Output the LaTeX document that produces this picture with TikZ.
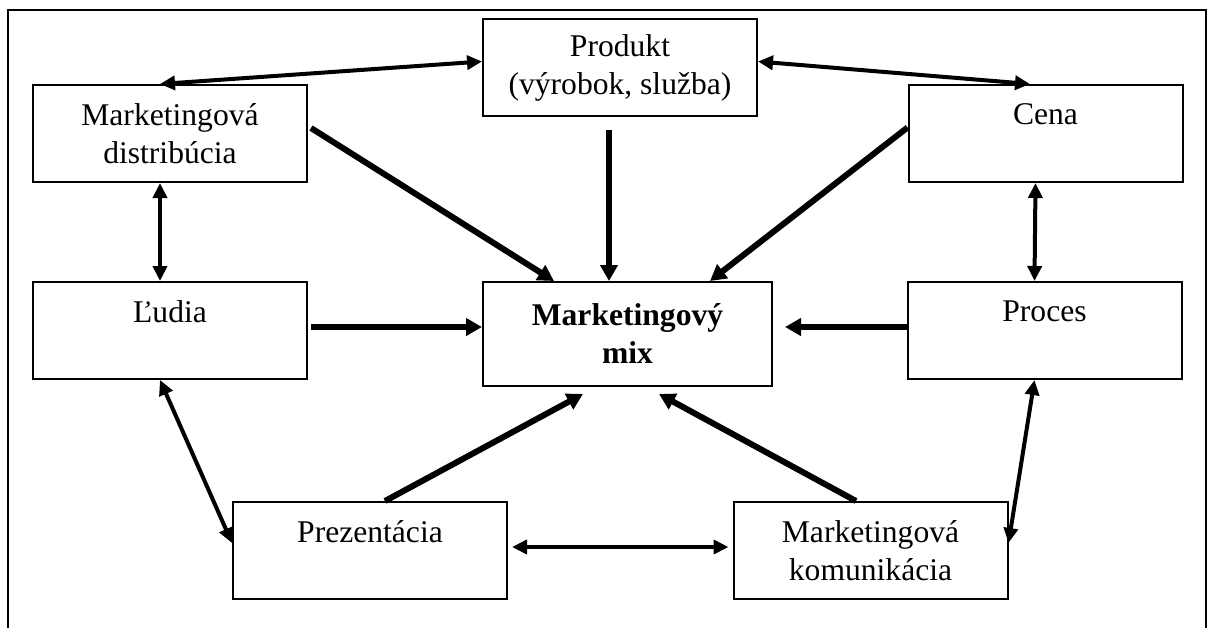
\documentclass[tikz,border=0pt]{standalone}
\usepackage{fontspec}
\setmainfont{Liberation Serif}
\usetikzlibrary{arrows.meta}

\begin{document}
\begin{tikzpicture}[x=0.5pt,y=-0.5pt,
  font=\fontsize{15.8}{19}\selectfont,
  box/.style={draw,line width=1pt,minimum width=137pt,minimum height=48.5pt,align=center,inner sep=0pt},
  oneline/.style={text depth=19pt},
  both/.style={line width=2pt,{Triangle[length=7.5pt,width=7pt]}-{Triangle[length=7.5pt,width=7pt]}},
  feed/.style={line width=3pt,-{Triangle[length=8pt,width=8.5pt]}}]
\useasboundingbox (0,0) rectangle (1209,628);
\draw[line width=1pt] (8,628) -- (8,10) -- (1206,10) -- (1206,628);

\node[box] (prod) at (620,67.5) {Produkt\\(výrobok, služba)};
\node[box] (distr) at (170,133.5) {Marketingová\\distribúcia};
\node[box,oneline] (cena) at (1045.5,133.5) {Cena};
\node[box,oneline] (ludia) at (170,330.5) {Ľudia};
\node[box,minimum width=144.5pt,minimum height=52pt,font=\fontsize{15.8}{19}\selectfont\bfseries] (mix) at (627.5,334) {Marketingový\\mix};
\node[box,oneline] (proces) at (1044.5,330.5) {Proces};
\node[box,oneline] (prez) at (370,550.5) {Prezentácia};
\node[box] (komun) at (870.5,550.5) {Marketingová\\komunikácia};

\draw[both] ([yshift=3pt]prod.west) -- ([xshift=-5pt]distr.north);
\draw[both] ([yshift=3pt]prod.east) -- ([xshift=-7.75pt]cena.north);
\draw[both] ([xshift=-5pt]distr.south) -- ([xshift=-5pt]ludia.north);
\draw[both] ([xshift=-5pt]cena.south) -- ([xshift=-5pt]proces.north);
\draw[both] ([xshift=-5pt]ludia.south) -- ([yshift=3.75pt]prez.west);
\draw[both] ([xshift=-5pt]proces.south) -- ([yshift=3.75pt]komun.east);
\draw[both] ([xshift=2pt,yshift=1.75pt]prez.east) -- ([xshift=-2pt,yshift=1.75pt]komun.west);

\draw[feed] ([xshift=1.5pt,yshift=2.75pt]distr.east) -- ([xshift=-36.75pt]mix.north);
\draw[feed] ([xshift=-5.5pt,yshift=-6.5pt]prod.south) -- ([xshift=-9.25pt]mix.north);
\draw[feed] ([yshift=3pt]cena.west) -- ([xshift=41.25pt]mix.north);
\draw[feed] ([xshift=1.5pt,yshift=1.75pt]ludia.east) -- ([yshift=3.5pt]mix.west);
\draw[feed] ([yshift=1.75pt]proces.west) -- ([xshift=6pt,yshift=3.5pt]mix.east);
\draw[feed] ([xshift=7.5pt]prez.north) -- ([xshift=-22.25pt,yshift=-3.5pt]mix.south);
\draw[feed] ([xshift=-7.25pt]komun.north) -- ([xshift=15.75pt,yshift=-3.5pt]mix.south);
\end{tikzpicture}
\end{document}
